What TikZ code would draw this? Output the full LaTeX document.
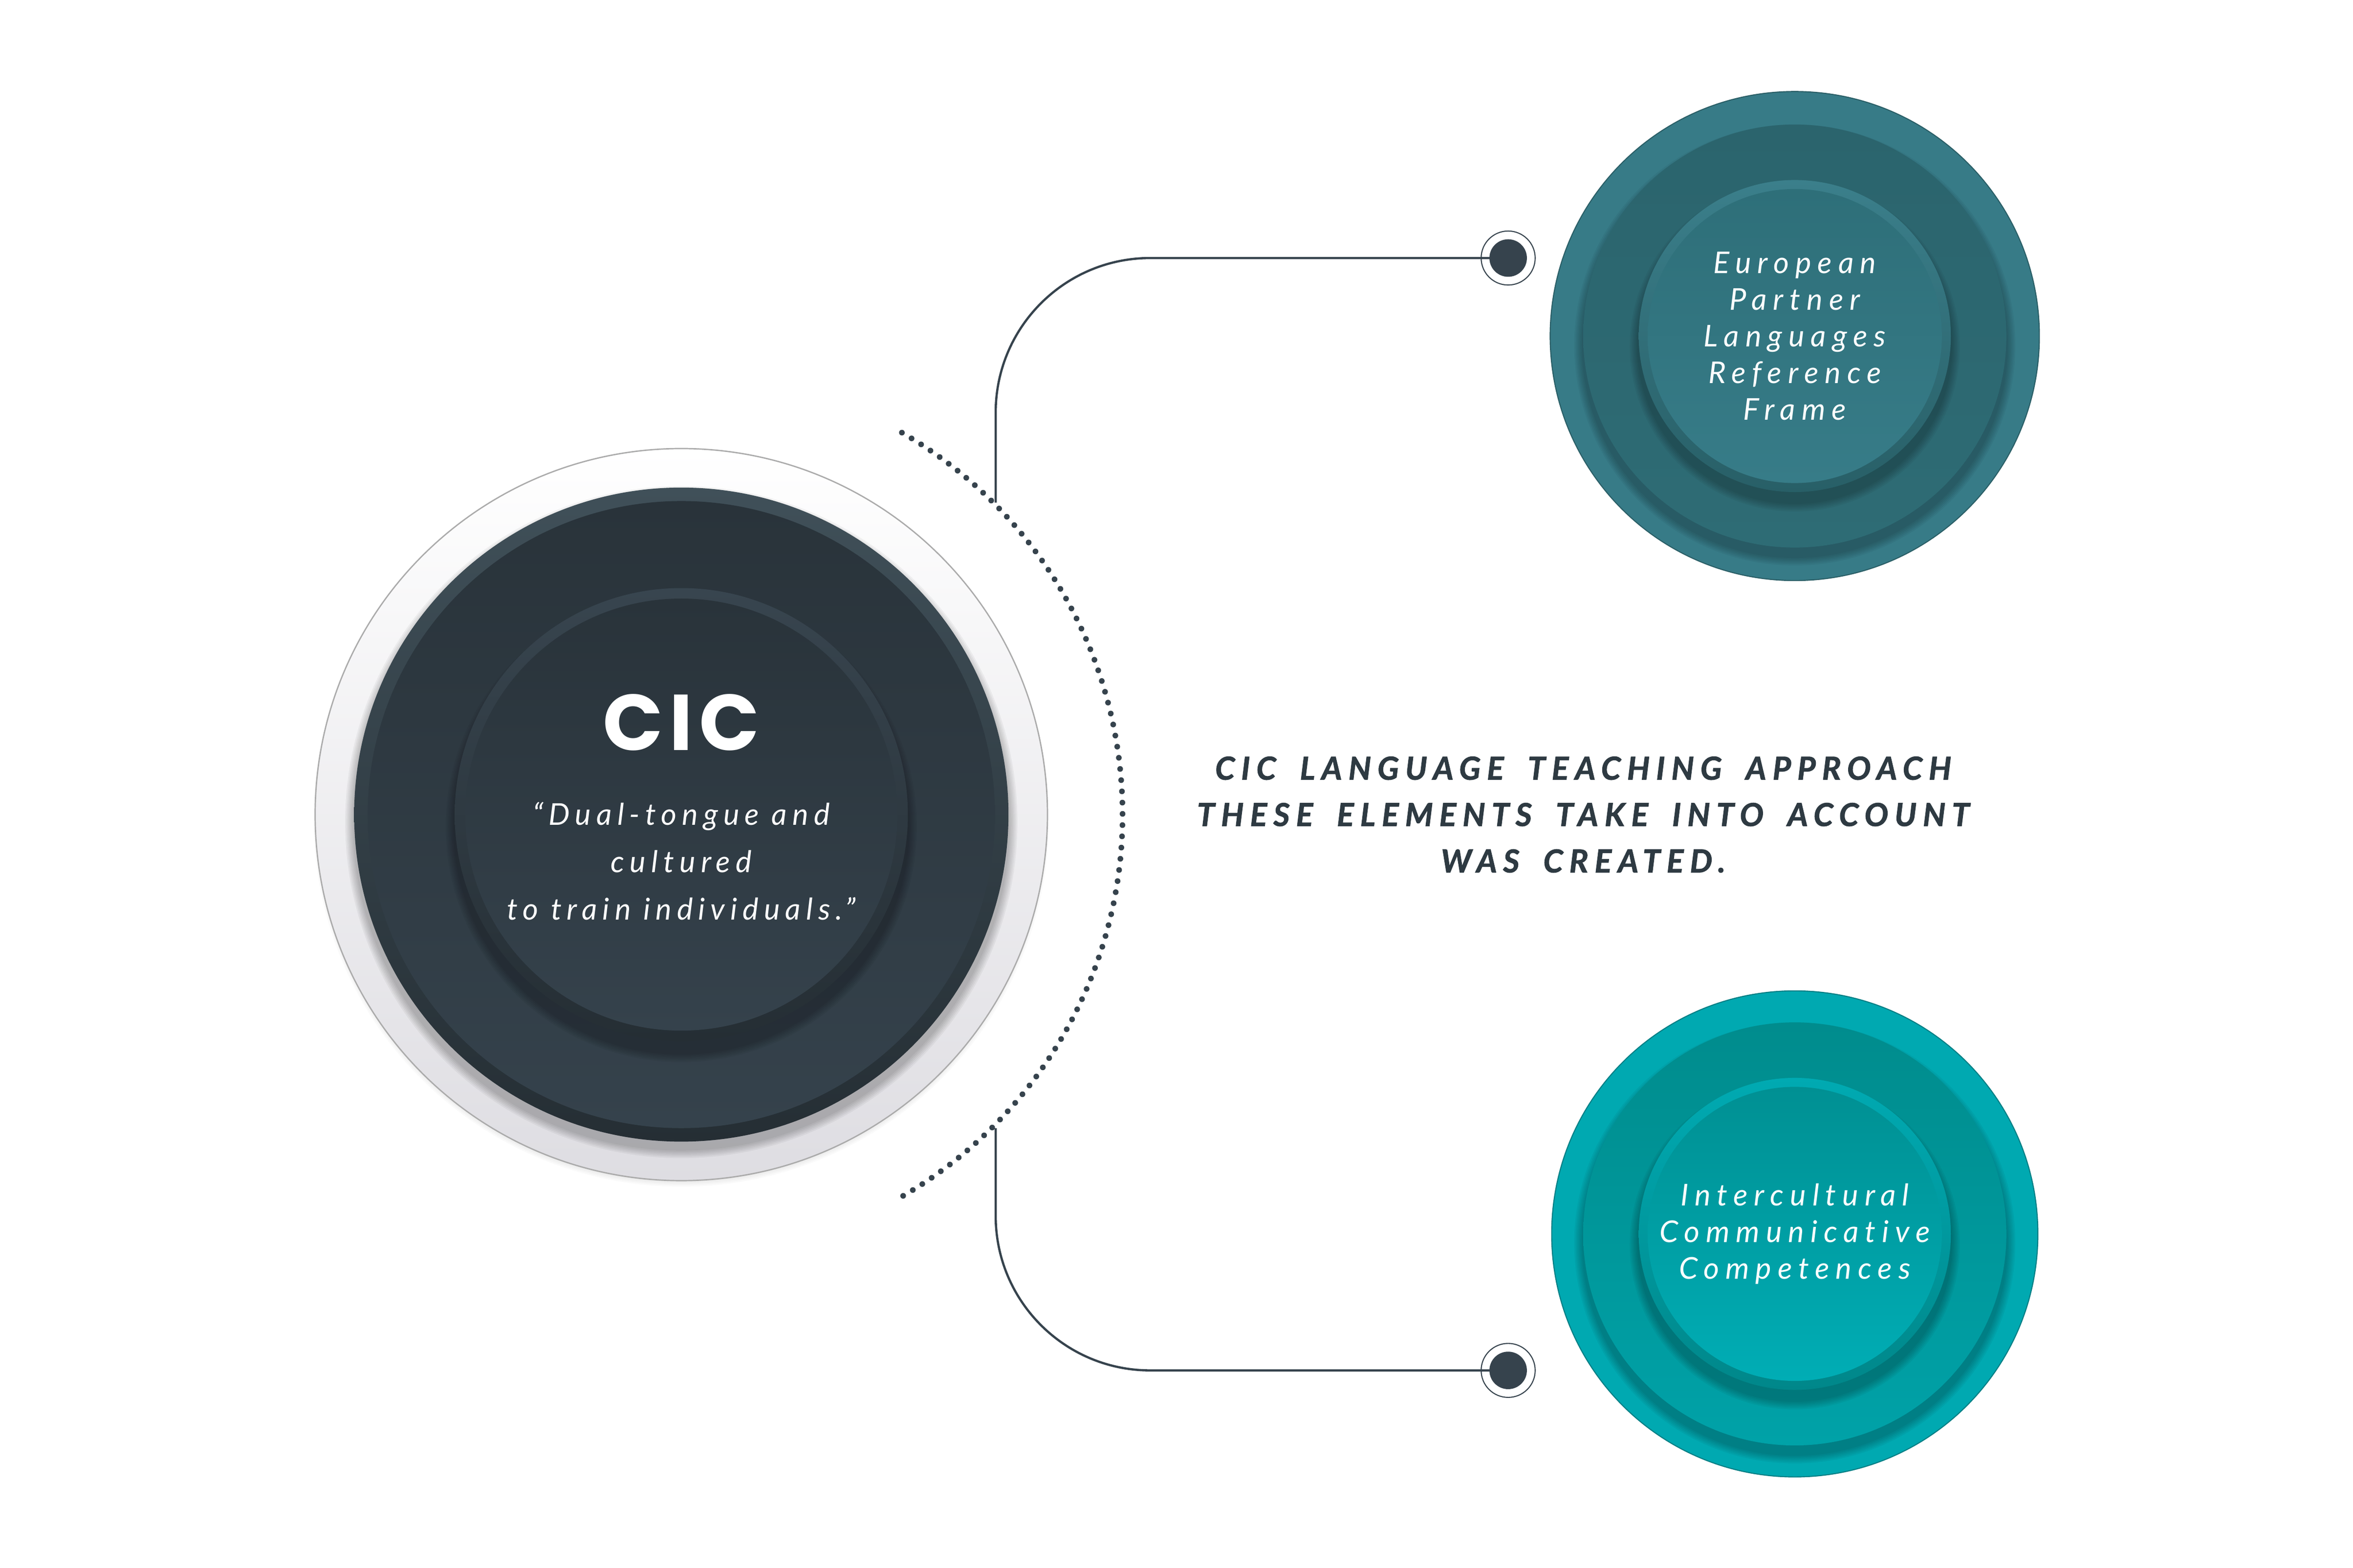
\documentclass[tikz,border=0pt]{standalone}
\usepackage{fontspec}
\newfontfamily\bodyfont{Lato}[LetterSpace=18,Ligatures=NoCommon]
\newfontfamily\bubblefont{Lato}[LetterSpace=21,Ligatures=NoCommon]
\newfontfamily\headfont{Lato}[LetterSpace=20,WordSpace=1.8,Ligatures=NoCommon,BoldItalicFeatures={FakeBold=1.5}]
\newfontfamily\cicfont{Poppins}[LetterSpace=8]

\definecolor{ink}{HTML}{36434D}
\definecolor{headink}{HTML}{2E3A42}
\definecolor{ringgray}{HTML}{DEDDE2}
\definecolor{ringedge}{HTML}{ABABAB}
\definecolor{cicrim}{HTML}{405059}
\definecolor{cicrimin}{HTML}{38454F}
\definecolor{cicrimdark}{HTML}{252E34}
\definecolor{cictop}{HTML}{29333A}
\definecolor{cicbottom}{HTML}{35424C}
\definecolor{eplouter}{HTML}{377B87}
\definecolor{epledge}{HTML}{2A5E66}
\definecolor{eplmidtop}{HTML}{2B646D}
\definecolor{eplmidbot}{HTML}{2E6C75}
\definecolor{eplrim}{HTML}{3B7F8B}
\definecolor{eplrimdark}{HTML}{285F67}
\definecolor{epltop}{HTML}{2E6F79}
\definecolor{eplbot}{HTML}{377C88}
\definecolor{iccouter}{HTML}{00A9B1}
\definecolor{iccedge}{HTML}{007E84}
\definecolor{iccmidtop}{HTML}{008C8D}
\definecolor{iccmidbot}{HTML}{00A2A8}
\definecolor{iccrim}{HTML}{00AAB2}
\definecolor{iccrimdark}{HTML}{00878A}
\definecolor{icctop}{HTML}{009093}
\definecolor{iccbot}{HTML}{00ADB5}

\tikzstyle{link}=[draw=ink,line width=0.85pt]
\tikzstyle{dotline}=[draw=ink,line width=0.076cm,line cap=round,dash pattern=on 0pt off 0.15cm]
\tikzstyle{pinring}=[circle,draw=ink,line width=0.4pt,minimum size=0.72cm,inner sep=0pt]
\tikzstyle{pindot}=[circle,fill=ink,minimum size=0.5cm,inner sep=0pt]
\tikzstyle{bubbletext}=[text=white,align=center,inner sep=0pt,font=\fontsize{11.4}{13.9}\selectfont\bubblefont\itshape]
\tikzstyle{quotetext}=[text=white,align=center,inner sep=0pt,font=\fontsize{11.4}{17.9}\selectfont\bodyfont\itshape]
\tikzstyle{titletext}=[text=white,inner sep=0pt,font=\fontsize{30}{30}\selectfont\cicfont\bfseries]
\tikzstyle{maintext}=[text=headink,align=center,inner sep=0pt,font=\fontsize{12}{17.6}\selectfont\headfont\bfseries\itshape]

% soft shadow under a disk: [opacity] centre, radius, drop
\newcommand{\dropshade}[4][0.045]{%
  \foreach \s in {1,...,6}{\fill[black,opacity=#1,shift={(#2)}] (0,-#4) circle ({#3+7-\s});}}

\begin{document}
\begin{tikzpicture}[x=0.02cm,y=0.02cm]
\fill[white] (0,0) rectangle (1568,-1045.2);
\useasboundingbox (0,0) rectangle (1568,-1045.2);

\coordinate (cic) at (454,-543);
\coordinate (epl) at (1196,-224);
\coordinate (icc) at (1196,-822.5);

% left disk
\dropshade[0.02]{cic}{239}{3}
\shade[top color=white,bottom color=ringgray,draw=ringedge,line width=0.5pt] (cic) circle (244);
\dropshade{cic}{218}{5}
\shade[top color=cicrim,bottom color=cicrimdark] (cic) circle (218);
\shade[top color=cictop,bottom color=cicbottom] (cic) circle (209);
\dropshade{cic}{151}{8}
\shade[top color=cicrimin,bottom color=cicrimdark] (cic) circle (151);
\shade[top color=cictop,bottom color=cicbottom] (cic) circle (144);

% top right disk
\fill[eplouter,draw=epledge,line width=0.4pt] (epl) circle (163);
\dropshade{epl}{141}{6}
\shade[top color=eplmidtop,bottom color=eplmidbot] (epl) circle (141);
\dropshade{epl}{104}{7}
\shade[top color=eplrim,bottom color=eplrimdark] (epl) circle (104);
\shade[top color=epltop,bottom color=eplbot] (epl) circle (98);

% bottom right disk
\fill[iccouter,draw=iccedge,line width=0.4pt] (icc) circle (162);
\dropshade{icc}{141}{6}
\shade[top color=iccmidtop,bottom color=iccmidbot] (icc) circle (141);
\dropshade{icc}{104}{7}
\shade[top color=iccrim,bottom color=iccrimdark] (icc) circle (104);
\shade[top color=icctop,bottom color=iccbot] (icc) circle (98);

% dotted arc
\draw[dotline] ([shift={(60:294)}]cic) arc (60:-60:294);

% connectors
\coordinate (lA) at (663.5,-335);
\coordinate (lB) at (663.5,-752);
\coordinate (pinA) at (1005,-172);
\coordinate (pinB) at (1005,-913.5);
\draw[link,rounded corners=2.06cm] (lA) |- (pinA);
\draw[link,rounded corners=2.06cm] (lB) |- (pinB);
\node[pinring] at (pinA) {};
\node[pindot] (dotA) at (pinA) {};
\node[pinring] at (pinB) {};
\node[pindot] (dotB) at (pinB) {};

% texts
\node[titletext] (cictitle) at (454,-481.5) {CIC};
\node[quotetext] (cicquote) at (454,-574) {“Dual-tongue and\\cultured\\to train individuals.”};
\node[bubbletext] (epltext) at (1196,-224) {European\\Partner\\Languages\\Reference\\Frame};
\node[bubbletext] (icctext) at (1196,-822.5) {Intercultural\\Communicative\\Competences};
\node[maintext] (approach) at (1055,-543) {CIC LANGUAGE TEACHING APPROACH\\THESE ELEMENTS TAKE INTO ACCOUNT\\WAS CREATED.};
\end{tikzpicture}
\end{document}
